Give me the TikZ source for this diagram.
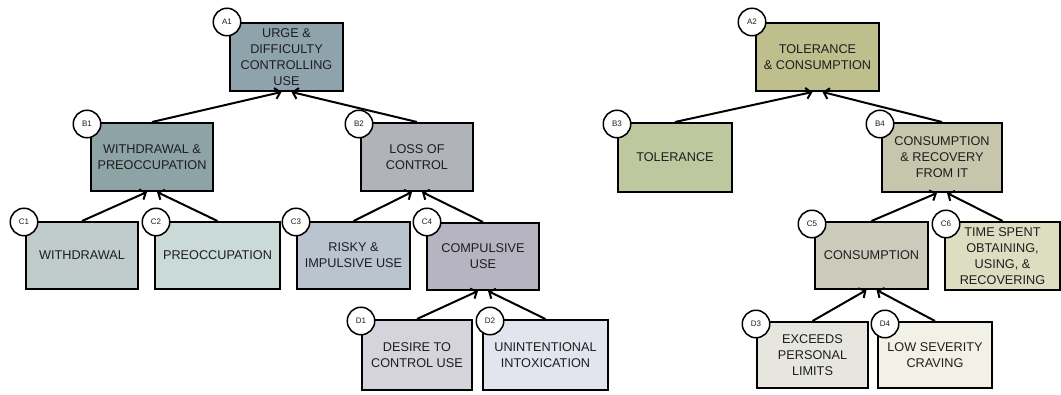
\documentclass[tikz,border=0pt]{standalone}
\usepackage{fontspec}
\setmainfont{Liberation Sans}
\usetikzlibrary{arrows.meta}
\definecolor{cA1}{HTML}{8FA3AD}
\definecolor{cB1}{HTML}{8DA3A6}
\definecolor{cB2}{HTML}{B0B3B9}
\definecolor{cC1}{HTML}{BFCCCB}
\definecolor{cC2}{HTML}{C9DAD7}
\definecolor{cC3}{HTML}{B9C4CF}
\definecolor{cC4}{HTML}{B6B4C0}
\definecolor{cD1}{HTML}{D5D4DD}
\definecolor{cD2}{HTML}{E2E5EE}
\definecolor{cA2}{HTML}{BFBF8E}
\definecolor{cB3}{HTML}{BDC89F}
\definecolor{cB4}{HTML}{C5C6AC}
\definecolor{cC5}{HTML}{CBCBBB}
\definecolor{cC6}{HTML}{DDDDC2}
\definecolor{cD3}{HTML}{E6E6DE}
\definecolor{cD4}{HTML}{F2F1E8}
\definecolor{ink}{HTML}{1E1E1E}
\begin{document}
\begin{tikzpicture}[x=1pt,y=-1pt,
  box/.style={draw=black, line width=2pt, inner sep=0pt, align=center,
    font=\fontsize{12.7}{16}\selectfont, text=ink},
  tag/.style={circle, draw=black, fill=white, line width=1.5pt, minimum size=27.5pt,
    inner sep=0pt, font=\fontsize{8}{9}\selectfont, text=ink},
  link/.style={line width=2pt, draw=black, -{Straight Barb[length=5pt,width=11pt]}}
]
\useasboundingbox (0,0) rectangle (1061,395);

% ---------- left tree ----------
\node[box, fill=cA1, minimum width=113pt, minimum height=68pt] (A1) at (286.5,57) {URGE \&\\DIFFICULTY\\CONTROLLING\\USE};
\node[box, fill=cB1, minimum width=122pt, minimum height=68pt] (B1) at (152,157) {WITHDRAWAL \&\\PREOCCUPATION};
\node[box, fill=cB2, minimum width=112pt, minimum height=68pt] (B2) at (417,157) {LOSS OF\\CONTROL};
\node[box, fill=cC1, minimum width=112pt, minimum height=67pt] (C1) at (82,255.5) {WITHDRAWAL};
\node[box, fill=cC2, minimum width=125pt, minimum height=67pt] (C2) at (217.5,255.5) {PREOCCUPATION};
\node[box, fill=cC3, minimum width=113pt, minimum height=67pt] (C3) at (353.5,255.5) {RISKY \&\\IMPULSIVE USE};
\node[box, fill=cC4, minimum width=112pt, minimum height=67pt] (C4) at (483,256.5) {COMPULSIVE\\USE};
\node[box, fill=cD1, minimum width=110pt, minimum height=70pt] (D1) at (417,355) {DESIRE TO\\CONTROL USE};
\node[box, fill=cD2, minimum width=125pt, minimum height=70pt] (D2) at (545.5,355) {UNINTENTIONAL\\INTOXICATION};

% ---------- right tree ----------
\node[box, fill=cA2, minimum width=123pt, minimum height=68pt] (A2) at (817.5,57) {TOLERANCE\\\& CONSUMPTION};
\node[box, fill=cB3, minimum width=114pt, minimum height=69pt] (B3) at (675,157.5) {TOLERANCE};
\node[box, fill=cB4, minimum width=120pt, minimum height=69pt] (B4) at (942,157.5) {CONSUMPTION\\\& RECOVERY\\FROM IT};
\node[box, fill=cC5, minimum width=113pt, minimum height=67pt] (C5) at (871.5,255.5) {CONSUMPTION};
\node[box, fill=cC6, minimum width=115pt, minimum height=68pt] (C6) at (1002.5,256) {TIME SPENT\\OBTAINING,\\USING, \&\\RECOVERING};
\node[box, fill=cD3, minimum width=111pt, minimum height=66pt] (D3) at (812.5,355) {EXCEEDS\\PERSONAL\\LIMITS};
\node[box, fill=cD4, minimum width=114pt, minimum height=66pt] (D4) at (935,355) {LOW SEVERITY\\CRAVING};

% ---------- connectors ----------
\draw[link] (B1.north) -- ([xshift=-5pt]A1.south);
\draw[link] (B2.north) -- ([xshift=5pt]A1.south);
\draw[link] (C1.north) -- ([xshift=-5pt]B1.south);
\draw[link] (C2.north) -- ([xshift=5pt]B1.south);
\draw[link] (C3.north) -- ([xshift=-5pt]B2.south);
\draw[link] (C4.north) -- ([xshift=5pt]B2.south);
\draw[link] (D1.north) -- ([xshift=-5pt]C4.south);
\draw[link] (D2.north) -- ([xshift=5pt]C4.south);
\draw[link] (B3.north) -- ([xshift=-5pt]A2.south);
\draw[link] (B4.north) -- ([xshift=5pt]A2.south);
\draw[link] (C5.north) -- ([xshift=-5pt]B4.south);
\draw[link] (C6.north) -- ([xshift=5pt]B4.south);
\draw[link] (D3.north) -- ([xshift=-5pt]C5.south);
\draw[link] (D4.north) -- ([xshift=5pt]C5.south);

% ---------- tags ----------
\node[tag] (tA1) at ([shift={(-2,0)}]A1.north west) {A1};
\node[tag] (tB1) at ([shift={(-3,2)}]B1.north west) {B1};
\node[tag] (tB2) at ([shift={(-1,2)}]B2.north west) {B2};
\node[tag] (tC1) at ([shift={(-1,1)}]C1.north west) {C1};
\node[tag] (tC2) at ([shift={(2,1)}]C2.north west) {C2};
\node[tag] (tC3) at ([shift={(0,1)}]C3.north west) {C3};
\node[tag] (tC4) at ([shift={(1,0)}]C4.north west) {C4};
\node[tag] (tD1) at ([shift={(0,2)}]D1.north west) {D1};
\node[tag] (tD2) at ([shift={(8,2)}]D2.north west) {D2};
\node[tag] (tA2) at ([shift={(-3,0)}]A2.north west) {A2};
\node[tag] (tB3) at ([shift={(0,2)}]B3.north west) {B3};
\node[tag] (tB4) at ([shift={(-1,2)}]B4.north west) {B4};
\node[tag] (tC5) at ([shift={(-2,3)}]C5.north west) {C5};
\node[tag] (tC6) at ([shift={(2,3)}]C6.north west) {C6};
\node[tag] (tD3) at ([shift={(0,3)}]D3.north west) {D3};
\node[tag] (tD4) at ([shift={(8,3)}]D4.north west) {D4};
\end{tikzpicture}
\end{document}
